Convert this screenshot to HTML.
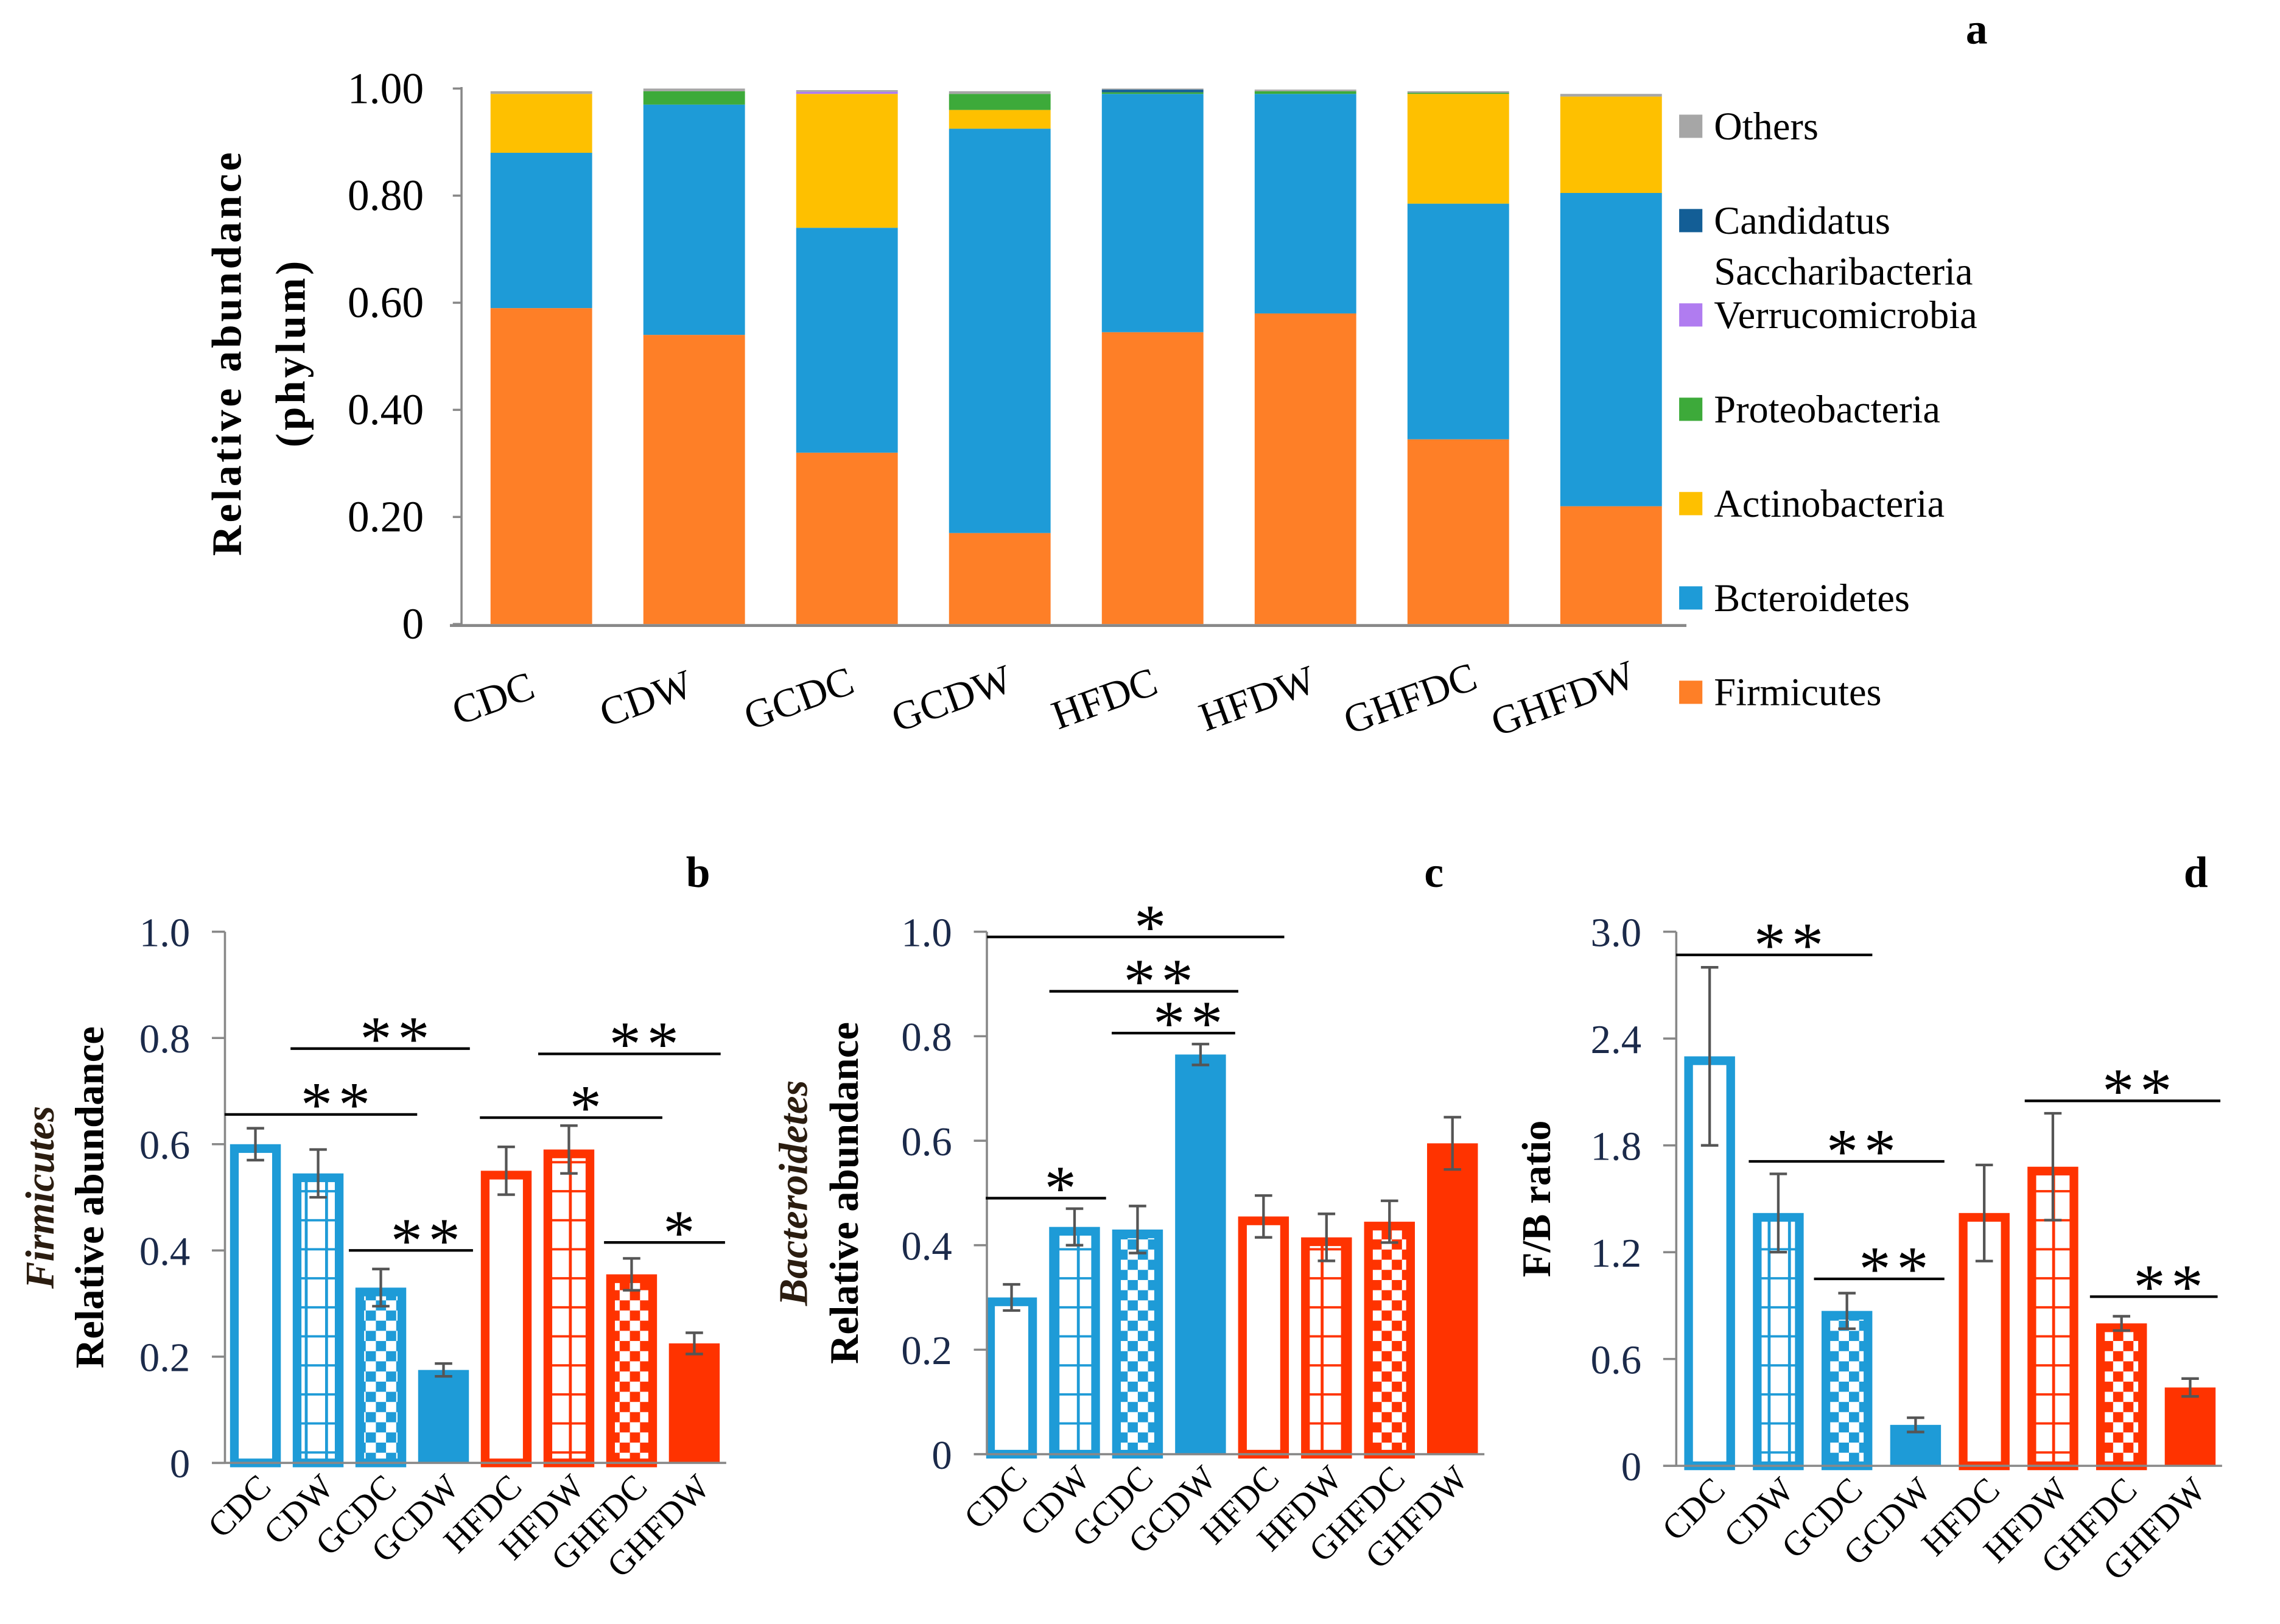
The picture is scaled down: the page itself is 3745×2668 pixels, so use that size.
<!DOCTYPE html>
<html><head><meta charset="utf-8">
<style>
html,body{margin:0;padding:0;background:#fff;}
svg{display:block;font-family:"Liberation Serif",serif;}
</style></head>
<body>
<svg id="fig" width="3745" height="2668" viewBox="0 0 1571 1119" preserveAspectRatio="none" xmlns="http://www.w3.org/2000/svg">
<defs>
<pattern id="gridB" width="14" height="20" patternUnits="userSpaceOnUse"><rect width="14" height="20" fill="#fff"/><rect x="0" width="2" height="20" fill="#1e9bd7"/><rect y="0" width="14" height="1.6" fill="#1e9bd7"/></pattern>
<pattern id="gridR" width="14" height="20" patternUnits="userSpaceOnUse"><rect width="14" height="20" fill="#fff"/><rect x="0" width="2" height="20" fill="#ff3300"/><rect y="0" width="14" height="1.6" fill="#ff3300"/></pattern>
<pattern id="chkB" width="14" height="14" patternUnits="userSpaceOnUse"><rect width="14" height="14" fill="#1e9bd7"/><rect width="7" height="7" fill="#fff"/><rect x="7" y="7" width="7" height="7" fill="#fff"/></pattern>
<pattern id="chkR" width="14" height="14" patternUnits="userSpaceOnUse"><rect width="14" height="14" fill="#ff3300"/><rect width="7" height="7" fill="#fff"/><rect x="7" y="7" width="7" height="7" fill="#fff"/></pattern>
</defs>
</svg>
<script>
// ---- Panel a data ----
const groups = ["CDC","CDW","GCDC","GCDW","HFDC","HFDW","GHFDC","GHFDW"];
const phyla = ["Firmicutes","Bcteroidetes","Actinobacteria","Proteobacteria","Verrucomicrobia","Candidatus Saccharibacteria","Others"];
const firmicutesA = [0.59,0.54,0.32,0.17,0.545,0.58,0.345,0.22];
const bacteroidetesA = [0.29,0.43,0.42,0.755,0.445,0.41,0.44,0.585];
const actinobacteriaA = [0.11,0,0.25,0.035,0,0,0.205,0.18];
const proteobacteriaA = [0,0.025,0,0.03,0.003,0.005,0.002,0];
const verrucoA = [0,0,0.004,0,0,0,0,0];
const candidatusA = [0,0,0,0,0.005,0,0,0];
const othersA = [0.005,0.005,0.003,0.005,0.002,0.003,0.003,0.005];
const yTicksA = ["0","0.20","0.40","0.60","0.80","1.00"];
// ---- Panels b,c,d data ----
const firmMean = [0.60,0.545,0.33,0.175,0.55,0.59,0.355,0.225];
const firmErr  = [0.03,0.045,0.035,0.012,0.045,0.045,0.03,0.02];
const bactMean = [0.30,0.435,0.43,0.765,0.455,0.415,0.445,0.595];
const bactErr  = [0.025,0.035,0.045,0.02,0.04,0.045,0.04,0.05];
const fbMean = [2.30,1.42,0.87,0.23,1.42,1.68,0.80,0.44];
const fbErr  = [0.50,0.22,0.10,0.04,0.27,0.30,0.04,0.05];
const ticks01 = [0,0.2,0.4,0.6,0.8,1.0];
const ticksFB = [0,0.6,1.2,1.8,2.4,3.0];
// brackets: [from group index (fractional), to group index, value level, label]
const sigB = [[-0.49,2.58,0.656,"**"],[0.56,3.42,0.78,"**"],[1.49,3.47,0.40,"**"],[3.58,6.49,0.65,"*"],[4.51,7.42,0.77,"**"],[5.56,7.49,0.415,"*"]];
const sigC = [[-0.39,4.33,0.99,"*"],[0.6,3.6,0.886,"**"],[1.59,3.55,0.806,"**"],[-0.41,1.5,0.49,"*"]];
const sigD = [[-0.49,2.37,2.87,"**"],[0.57,3.42,1.71,"**"],[1.52,3.42,1.05,"**"],[4.59,7.44,2.05,"**"],[5.54,7.4,0.95,"**"]];

const svg = document.getElementById('fig');
const NS = "http://www.w3.org/2000/svg";
function mk(tag, attrs, parent){
  const e=document.createElementNS(NS,tag);
  for(const k in attrs) e.setAttribute(k,attrs[k]);
  (parent||svg).appendChild(e); return e;
}
function txt(s, attrs, parent){ const t=mk('text',attrs,parent); t.textContent=s; return t; }

// ---------------- Panel a ----------------
const gA = mk('g',{});


const ayA = v => 430 - v*369;
const axA = i => 373 + i*105.3;
const colorsA = ["#fe7f27","#1e9bd7","#fec000","#3daa3a","#b07cf0","#135e96","#a6a6a6"];
const seriesA = [firmicutesA,bacteroidetesA,actinobacteriaA,proteobacteriaA,verrucoA,candidatusA,othersA];
yTicksA.forEach((t,i)=>{
  const v=i*0.2;
  mk('line',{x1:312,x2:318,y1:ayA(v),y2:ayA(v),stroke:'#888','stroke-width':1.5},gA);
  const l=txt(t,{x:292,y:ayA(v)+10,'font-size':30,'text-anchor':'end',fill:'#000'},gA);
  
  
});
groups.forEach((g,i)=>{
  let base=0;
  seriesA.forEach((s,k)=>{
    const v=s[i]; if(v<=0) return;
    const r=mk('rect',{x:axA(i)-35,y:ayA(base+v),width:70,height:v*369,fill:colorsA[k]},gA);
    
    
    base+=v;
  });
  const t=txt(g,{x:0,y:0,'font-size':28,'text-anchor':'middle',transform:`translate(${axA(i)-30},${490}) rotate(-20)`},gA);
  
  
});
mk('line',{x1:318,x2:318,y1:60,y2:431,stroke:'#888','stroke-width':1.5},gA);
mk('line',{x1:310,x2:1162,y1:431,y2:431,stroke:'#888','stroke-width':2},gA);
const ytA=txt('Relative abundance',{x:0,y:0,'font-size':29,'font-weight':'bold','text-anchor':'middle','letter-spacing':'2',transform:'translate(166,243) rotate(-90)'},gA);


const ytA2=txt('(phylum)',{x:0,y:0,'font-size':29,'font-weight':'bold','text-anchor':'middle','letter-spacing':'2',transform:'translate(210,243) rotate(-90)'},gA);


const legItems=[["Others",6,87],["Candidatus",5,152],["Verrucomicrobia",4,217],["Proteobacteria",3,282],["Actinobacteria",2,347],["Bcteroidetes",1,412],["Firmicutes",0,477]];
legItems.forEach(([name,k,y])=>{
  const g=mk('g',{},gA);
  
  
  mk('rect',{x:1157,y:y-8,width:16,height:16,fill:colorsA[k]},g);
  txt(name,{x:1181,y:y+9,'font-size':27},g);
});
const sacc=txt('Saccharibacteria',{x:1181,y:196,'font-size':27},gA);


const la=txt('a',{x:1362,y:30,'font-size':30,'font-weight':'bold','text-anchor':'middle'});



// ---------------- Bar panels ----------------
const BLUE="#1e9bd7", RED="#ff3300";
const fills=["#fff","url(#gridB)","url(#chkB)",BLUE,"#fff","url(#gridR)","url(#chkR)",RED];
function panel(name, axisX, yTop, yBot, ymax, ticks, tickFmt, x0, dx, means, errs, sigs, titleLines, titleX, letter, letterX){
  const g=mk('g',{});
  
  
  const ys=v=> yBot-(v/ymax)*(yBot-yTop);
  const xs=i=> x0+i*dx;
  ticks.forEach(t=>{
    mk('line',{x1:axisX-9,x2:axisX,y1:ys(t),y2:ys(t),stroke:'#888','stroke-width':1.5},g);
    const l=txt(tickFmt(t),{x:axisX-24,y:ys(t)+10,'font-size':28,'text-anchor':'end',fill:'#1b2a4a'},g);
    
    
  });
  const bw=35;
  means.forEach((m,i)=>{
    const c=i<4?BLUE:RED;
    const solid=(i===3||i===7);
    const r=mk('rect',{x:xs(i)-bw/2+3,y:ys(m)+3,width:bw-6,height:Math.max(0,ys(0)-ys(m)-3),fill:fills[i],stroke:c,'stroke-width':solid?0:6},g);
    if(solid){r.setAttribute('x',xs(i)-bw/2);r.setAttribute('width',bw);r.setAttribute('y',ys(m));r.setAttribute('height',ys(0)-ys(m));}
    
    
    const e=errs[i];
    const eb=mk('path',{d:`M${xs(i)},${ys(m+e)}V${ys(m-e)}M${xs(i)-6},${ys(m+e)}H${xs(i)+6}M${xs(i)-6},${ys(m-e)}H${xs(i)+6}`,stroke:'#555','stroke-width':1.8,fill:'none'},g);
    
    
    const t=txt(groups[i],{x:0,y:0,'font-size':24,'text-anchor':'end',transform:`translate(${xs(i)+12},${yBot+18}) rotate(-45)`},g);
    
    
  });
  mk('line',{x1:axisX,x2:axisX,y1:yTop,y2:yBot,stroke:'#888','stroke-width':1.5},g);
  mk('line',{x1:axisX-9,x2:x0+7*dx+22,y1:yBot,y2:yBot,stroke:'#888','stroke-width':1.5},g);
  sigs.forEach(([a,b,v,s])=>{
    const xa=xs(a), xb=xs(b), y=ys(v);
    const sg=mk('g',{},g);
    
    
    mk('line',{x1:xa,x2:xb,y1:y,y2:y,stroke:'#000','stroke-width':1.8},sg);
    txt(s,{x:(xa+xb)/2+12,y:y+8,'font-size':44,'text-anchor':'middle','letter-spacing':'4'},sg);
  });
  titleLines.forEach(([s,dxx,it])=>{
    const t=txt(s,{x:0,y:0,'font-size':28,'font-weight':'bold','font-style':it?'italic':'normal','text-anchor':'middle',fill:it?'#2b1d10':'#000',transform:`translate(${titleX+dxx},${(yTop+yBot)/2}) rotate(-90)`},g);
    
    
  });
  const L=txt(letter,{x:letterX,y:611,'font-size':30,'font-weight':'bold','text-anchor':'middle'},g);
  
  
}
panel('panel-b-firmicutes',155,642,1008,1.0,ticks01,t=>t===0?'0':t.toFixed(1),176,43.2,firmMean,firmErr,sigB,[["Firmicutes",0,true],["Relative abundance",34,false]],37,'b',481);
panel('panel-c-bacteroidetes',680,642,1002,1.0,ticks01,t=>t===0?'0':t.toFixed(1),697,43.4,bactMean,bactErr,sigC,[["Bacteroidetes",0,true],["Relative abundance",35,false]],556,'c',988);
panel('panel-d-fb-ratio',1155,642,1010,3.0,ticksFB,t=>t===0?'0':t.toFixed(1),1178,47.3,fbMean,fbErr,sigD,[["F/B ratio",0,false]],1068,'d',1513);
</script>
</body></html>
